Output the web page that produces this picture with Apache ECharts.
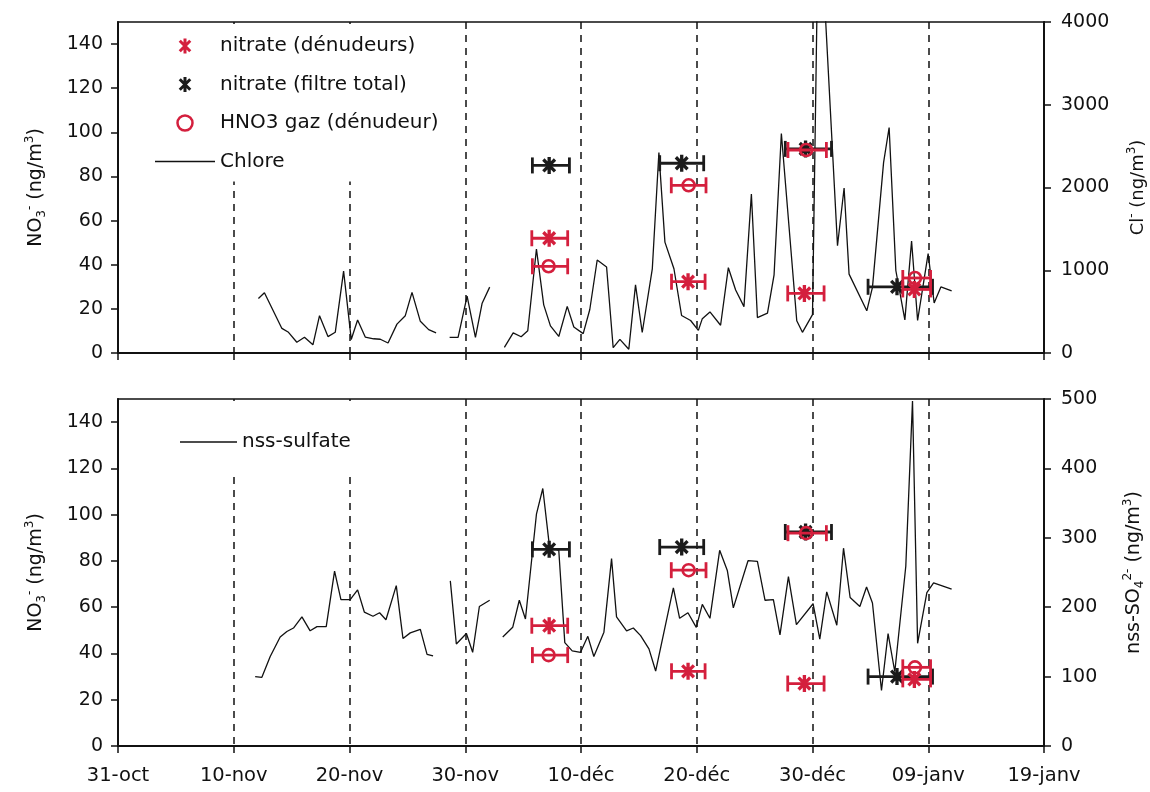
<!DOCTYPE html>
<html><head><meta charset="utf-8">
<script src="https://cdn.jsdelivr.net/npm/echarts@6/dist/echarts.min.js"></script>
<style>html,body{margin:0;padding:0;background:#fff}#c{width:1150px;height:792px}</style>
</head><body><div id="c"></div>
<script>
// x values are days since 31-oct
const dateLabels = ['31-oct','10-nov','20-nov','30-nov','10-déc','20-déc','30-déc','09-janv','19-janv'];

const chloreDays = [12.13,12.65,14.16,14.73,15.45,16.11,16.84,17.41,18.14,18.77,19.49,20.15,20.70,21.36,22.08,22.66,23.33,24.10,24.82,25.40,26.12,26.84,27.48,28.0,
  28.65,29.38,30.16,30.88,31.46,32.11,32.8,
  33.38,34.14,34.83,35.40,36.15,36.78,37.36,38.08,38.81,39.38,40.19,40.76,41.40,42.21,42.78,43.36,44.13,44.71,45.29,46.16,
  46.73,47.25,48.03,48.69,49.47,50.14,50.48,51.14,52.06,52.73,53.36,54.08,54.72,55.24,56.11,56.68,57.31,58.64,59.13,60.00,
  60.54,62.16,62.73,63.16,64.69,65.18,66.14,66.62,67.20,67.98,68.56,69.08,69.99,70.51,71.09,72.02];
const chloreValues = [659,728,297,250,130,190,99,451,198,250,990,164,398,193,172,166,121,349,451,733,383,282,244,null,
  190,190,687,190,602,796,null,
  67,244,196,269,1257,582,328,200,564,315,234,526,1124,1040,64,165,45,824,248,1016,
  2423,1340,1018,453,393,273,415,496,335,1031,761,560,1922,428,481,945,2652,390,250,464,
  5600,1296,1994,953,510,793,2300,2725,997,400,1354,393,1201,605,799,751];

const sulfateDays = [11.85,12.43,13.15,14.01,14.59,15.16,15.89,16.60,17.19,17.99,18.71,19.26,20.06,20.70,21.28,22.03,22.60,23.15,24.04,24.62,25.25,26.12,26.70,27.22,28.0,
  28.71,29.23,30.10,30.64,31.22,32.11,32.7,
  33.24,34.10,34.67,35.20,36.15,36.70,37.28,38.08,38.60,39.24,39.96,40.59,41.11,41.98,42.64,43.07,43.94,44.52,45.15,45.87,
  46.45,47.98,48.52,49.24,49.96,50.48,51.14,51.98,52.64,53.16,54.43,55.24,55.90,56.62,57.19,57.92,58.61,60.05,60.63,61.23,
  62.10,62.68,63.25,64.09,64.67,65.18,65.96,66.53,67.11,68.06,68.64,69.08,69.88,70.46,72.02];
const sulfateValues = [100,99,129,157,165,170,186,166,172,172,252,211,211,225,193,187,192,182,231,155,163,168,132,130,null,
  238,147,162,135,201,210,null,
  157,171,210,183,334,371,287,282,149,137,135,158,129,164,270,186,166,170,159,140,
  108,228,184,192,171,204,184,282,253,199,267,266,210,211,160,244,175,205,154,222,
  174,285,214,201,229,206,80,162,107,259,497,148,221,235,226];

// nitrate (filtre total)
const filtreDays = [37.25, 48.7, 59.4, 67.3];
const filtreLow = [35.8, 46.8, 57.65, 64.8];
const filtreHigh = [39.0, 50.6, 61.64, 70.37];
const filtreValues = [85, 86, 92.5, 30];
// nitrate (dénudeurs)
const denDays = [37.25, 49.25, 59.3, 68.8];
const denLow = [35.75, 47.82, 57.86, 67.8];
const denHigh = [38.85, 50.72, 61.0, 70.2];
const denValues = [52, 32.3, 27, 28.8];
// HNO3 gaz (dénudeur)
const hno3Days = [37.2, 49.3, 59.45, 68.85];
const hno3Low = [35.8, 47.8, 57.88, 67.8];
const hno3High = [38.85, 50.8, 61.2, 70.2];
const hno3Values = [39.3, 76, 92, 34];

const FONT = 'DejaVu Sans';
const RED = '#d41f3d';
const BLACK = '#1b1b1b';
const STAR = 'path://M8,0L12,0L12,20L8,20Z M4.41,1.59L18.41,15.59L15.59,18.41L1.59,4.41Z M18.41,4.41L4.41,18.41L1.59,15.59L15.59,1.59Z';
const LINE_ICON = 'path://M0,0L60,0L60,1.4L0,1.4Z';

const pairs = (xs, ys) => xs.map((x, i) => [x, ys[i]]);
const errData = (xs, lo, hi, ys) => xs.map((x, i) => [x, lo[i], hi[i], ys[i]]);

function errRender(color) {
  return function (params, api) {
    const y = api.value(3);
    const p1 = api.coord([api.value(1), y]);
    const p2 = api.coord([api.value(2), y]);
    const h = 8;
    const style = { stroke: color, lineWidth: 2.8, fill: null };
    return { type: 'group', children: [
      { type: 'line', shape: { x1: p1[0], y1: p1[1], x2: p2[0], y2: p2[1] }, style },
      { type: 'line', shape: { x1: p1[0], y1: p1[1] - h, x2: p1[0], y2: p1[1] + h }, style },
      { type: 'line', shape: { x1: p2[0], y1: p2[1] - h, x2: p2[0], y2: p2[1] + h }, style }
    ]};
  };
}

const nameRich = {
  sub: { fontSize: 12, lineHeight: 12, verticalAlign: 'bottom', fontFamily: FONT, color: '#111' },
  sup: { fontSize: 12, lineHeight: 12, verticalAlign: 'top', fontFamily: FONT, color: '#111' }
};

function xAxisCfg(i) {
  return {
    type: 'value', gridIndex: i, min: 0, max: 80, interval: 10,
    axisLine: { show: true, lineStyle: { color: '#111', width: 2 } },
    axisTick: { show: true, length: 7, lineStyle: { color: '#111', width: 1.5 } },
    axisLabel: { show: i === 1, formatter: v => dateLabels[Math.round(v / 10)], fontFamily: FONT, fontSize: 19.5, color: '#111', margin: 20 },
    splitLine: { show: true, lineStyle: { type: [7, 6], color: '#111', width: 1.5 } }
  };
}
function yAxisCfg(grid, pos, max, interval, name, gap, nameSize) {
  return {
    type: 'value', gridIndex: grid, position: pos, min: 0, max: max, interval: interval,
    axisLine: { show: true, onZero: false, lineStyle: { color: '#111', width: 2 } },
    axisTick: { show: true, length: 7, lineStyle: { color: '#111', width: 1.5 } },
    axisLabel: { fontFamily: FONT, fontSize: 19, color: '#111', margin: pos === 'left' ? 15 : 17,
      showMaxLabel: max % interval === 0, formatter: v => String(v) },
    splitLine: { show: false },
    name: name, nameLocation: 'middle', nameRotate: 90, nameGap: gap,
    nameTextStyle: { fontFamily: FONT, fontSize: nameSize, color: '#111', lineHeight: 24, rich: nameRich }
  };
}

function markerSeries(p) {
  return [
    { type: 'custom', xAxisIndex: p, yAxisIndex: p * 2, renderItem: errRender(BLACK), encode: { x: [0, 1, 2], y: 3 },
      data: errData(filtreDays, filtreLow, filtreHigh, filtreValues), z: 3, silent: true },
    { type: 'scatter', name: 'nitrate (filtre total)', xAxisIndex: p, yAxisIndex: p * 2, symbol: STAR, symbolSize: [14, 17],
      itemStyle: { color: BLACK, opacity: 1 }, data: pairs(filtreDays, filtreValues), z: 4 },
    { type: 'custom', xAxisIndex: p, yAxisIndex: p * 2, renderItem: errRender(RED), encode: { x: [0, 1, 2], y: 3 },
      data: errData(denDays, denLow, denHigh, denValues), z: 5, silent: true },
    { type: 'scatter', name: 'nitrate (dénudeurs)', xAxisIndex: p, yAxisIndex: p * 2, symbol: STAR, symbolSize: [14, 17],
      itemStyle: { color: RED, opacity: 1 }, data: pairs(denDays, denValues), z: 6 },
    { type: 'custom', xAxisIndex: p, yAxisIndex: p * 2, renderItem: errRender(RED), encode: { x: [0, 1, 2], y: 3 },
      data: errData(hno3Days, hno3Low, hno3High, hno3Values), z: 5, silent: true },
    { type: 'scatter', name: 'HNO3 gaz (dénudeur)', xAxisIndex: p, yAxisIndex: p * 2, symbol: 'circle', symbolSize: 12,
      itemStyle: { color: 'rgba(0,0,0,0)', borderColor: RED, borderWidth: 2.6, opacity: 1 }, data: pairs(hno3Days, hno3Values), z: 6 }
  ];
}

const chart = echarts.init(document.getElementById('c'), null, { renderer: 'canvas' });
chart.setOption({
  backgroundColor: '#fff',
  animation: false,
  grid: [
    { left: 118, right: 106, top: 22, height: 331, show: true, borderColor: '#111', borderWidth: 1.5, backgroundColor: 'rgba(0,0,0,0)', containLabel: false, outerBoundsMode: 'none' },
    { left: 118, right: 106, top: 399, height: 347, show: true, borderColor: '#111', borderWidth: 1.5, backgroundColor: 'rgba(0,0,0,0)', containLabel: false, outerBoundsMode: 'none' }
  ],
  xAxis: [xAxisCfg(0), xAxisCfg(1)],
  yAxis: [
    yAxisCfg(0, 'left', 150, 20, 'NO{sub|3}{sup|-} (ng/m{sup|3})', 70, 19),
    yAxisCfg(0, 'right', 4000, 1000, 'Cl{sup|-} (ng/m{sup|3})', 82, 18),
    yAxisCfg(1, 'left', 150, 20, 'NO{sub|3}{sup|-} (ng/m{sup|3})', 70, 19),
    yAxisCfg(1, 'right', 500, 100, 'nss-SO{sub|4}{sup|2-} (ng/m{sup|3})', 78, 19)
  ],
  legend: [
    { orient: 'vertical', left: 145, top: 24, padding: [12, 10, 10, 10], itemGap: 18.5, itemWidth: 60, itemHeight: 15,
      backgroundColor: '#fff', selectedMode: false,
      textStyle: { fontFamily: FONT, fontSize: 20, color: '#111' },
      data: [
        { name: 'nitrate (dénudeurs)', icon: STAR, itemStyle: { color: RED } },
        { name: 'nitrate (filtre total)', icon: STAR, itemStyle: { color: BLACK } },
        { name: 'HNO3 gaz (dénudeur)', icon: 'circle', itemStyle: { color: 'rgba(0,0,0,0)', borderColor: RED, borderWidth: 2.5 } },
        { name: 'Chlore', icon: LINE_ICON, itemStyle: { color: '#111', borderWidth: 0 } }
      ] },
    { orient: 'vertical', left: 170, top: 401, padding: [31, 10, 24, 10], itemWidth: 57, itemHeight: 15,
      backgroundColor: '#fff', selectedMode: false,
      textStyle: { fontFamily: FONT, fontSize: 20, color: '#111' },
      data: [{ name: 'nss-sulfate', icon: LINE_ICON, itemStyle: { color: '#111', borderWidth: 0 } }] }
  ],
  series: [
    { type: 'line', name: 'Chlore', xAxisIndex: 0, yAxisIndex: 1, data: pairs(chloreDays, chloreValues),
      symbol: 'none', connectNulls: false, clip: true, lineStyle: { color: '#111', width: 1.3 }, itemStyle: { color: '#111' }, z: 2 },
    { type: 'line', name: 'nss-sulfate', xAxisIndex: 1, yAxisIndex: 3, data: pairs(sulfateDays, sulfateValues),
      symbol: 'none', connectNulls: false, clip: true, lineStyle: { color: '#111', width: 1.3 }, itemStyle: { color: '#111' }, z: 2 }
  ].concat(markerSeries(0), markerSeries(1))
});
</script>
</body></html>
